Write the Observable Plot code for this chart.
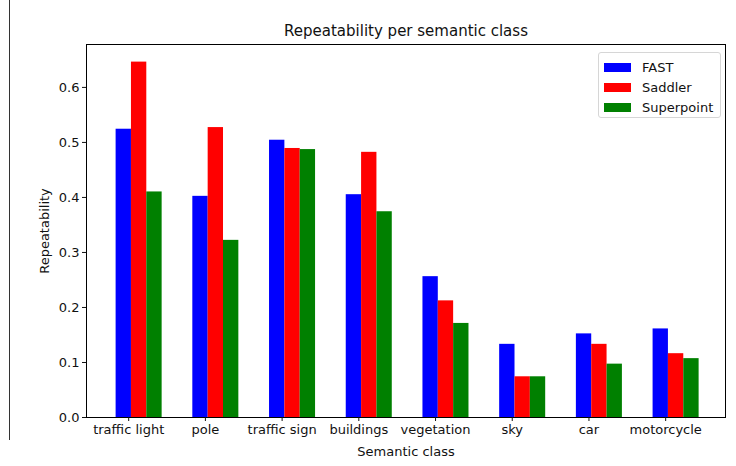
<!DOCTYPE html>
<html>
<head>
<meta charset="utf-8">
<script src="https://cdn.jsdelivr.net/npm/d3@7"></script>
<script src="https://cdn.jsdelivr.net/npm/@observablehq/plot@0.6"></script>
<style>
  html, body { margin: 0; padding: 0; background: #fff; }
  #wrap { position: relative; width: 736px; height: 466px; font-family: "DejaVu Sans", sans-serif; }
  #edge { position: absolute; left: 9px; top: 0; width: 0; height: 440px; border-left: 1px solid #333; }
  #legend { position: absolute; left: 598px; top: 52px; width: 123px; height: 66px; border: 1px solid #d6d6d6; border-radius: 3px; background: rgba(255,255,255,0.8); font-size: 13px; color: #111; box-sizing: border-box; padding-top: 4px; }
  #legend .row { display: flex; align-items: center; height: 20px; }
  #legend .sw { width: 27px; height: 9px; margin-left: 5px; margin-right: 11px; }
</style>
</head>
<body>
<div id="wrap"><div id="edge"></div><div id="legend"></div></div>
<script>
const categories = ["traffic light", "pole", "traffic sign", "buildings", "vegetation", "sky", "car", "motorcycle"];
const seriesNames = ["FAST", "Saddler", "Superpoint"];
const fast = [0.524, 0.402, 0.504, 0.405, 0.256, 0.133, 0.152, 0.161];
const saddler = [0.646, 0.527, 0.489, 0.482, 0.212, 0.074, 0.133, 0.116];
const superpoint = [0.410, 0.322, 0.487, 0.374, 0.171, 0.074, 0.097, 0.107];
const colors = ["#0000ff", "#ff0000", "#008000"];
const yTicks = [0, 0.1, 0.2, 0.3, 0.4, 0.5, 0.6];

const barW = 0.2, groupStart = -0.164;
const seriesVals = [fast, saddler, superpoint];
const rows = [];
seriesVals.forEach((vals, s) => vals.forEach((v, i) => rows.push({
  i, s, series: seriesNames[s], value: v,
  x1: i + groupStart + barW * s, x2: i + groupStart + barW * (s + 1)
})));

const chart = Plot.plot({
  width: 736, height: 466,
  marginLeft: 86, marginRight: 11, marginTop: 44, marginBottom: 49,
  style: { fontFamily: "DejaVu Sans, sans-serif", fontSize: "13px", color: "#111", background: "transparent" },
  x: { type: "linear", domain: [-0.55, 7.78] },
  y: { domain: [0, 0.678] },
  color: { domain: seriesNames, range: colors },
  marks: [
    Plot.rect(rows, { x1: "x1", x2: "x2", y1: 0, y2: "value", fill: "series" }),
    Plot.frame({ stroke: "#000", strokeWidth: 1 }),
    Plot.axisX({ ticks: d3.range(categories.length), tickFormat: i => categories[i], tickSize: 4, tickPadding: 3, label: "Semantic class", labelAnchor: "center", labelArrow: "none", labelOffset: 38, fontSize: 13 }),
    Plot.axisY({ ticks: yTicks, tickFormat: d3.format(".1f"), tickSize: 4, tickPadding: 3, label: "Repeatability", labelAnchor: "center", labelArrow: "none", labelOffset: 47, fontSize: 13 }),
    Plot.text(["Repeatability per semantic class"], { frameAnchor: "top", dy: -19, fontSize: 15, fill: "#111" })
  ]
});
document.getElementById("wrap").appendChild(chart);
chart.style.position = "absolute"; chart.style.left = "0"; chart.style.top = "0";
document.getElementById("wrap").appendChild(document.getElementById("legend"));

const legend = document.getElementById("legend");
seriesNames.forEach((n, s) => {
  const r = document.createElement("div"); r.className = "row";
  const sw = document.createElement("div"); sw.className = "sw"; sw.style.background = colors[s];
  const t = document.createElement("span"); t.textContent = n;
  r.appendChild(sw); r.appendChild(t); legend.appendChild(r);
});
</script>
</body>
</html>
